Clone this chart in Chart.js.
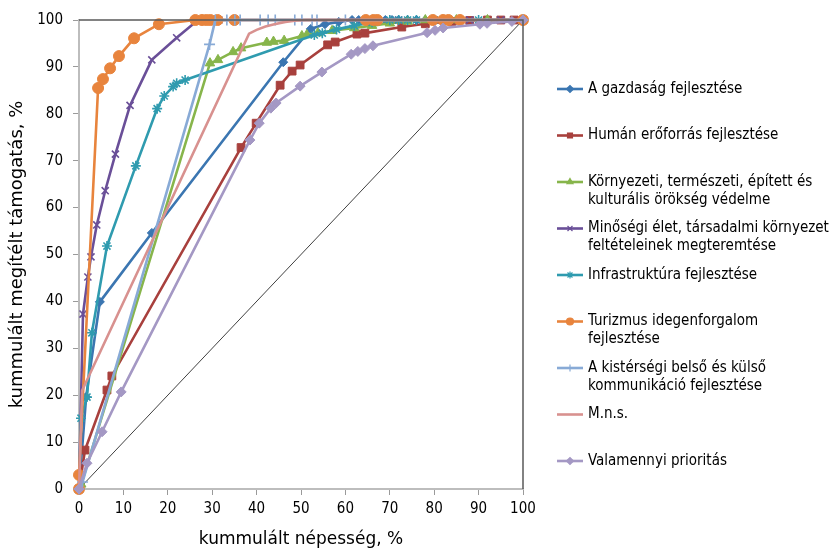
<!DOCTYPE html>
<html>
<head>
<meta charset="utf-8">
<script src="https://cdn.jsdelivr.net/npm/chart.js@4/dist/chart.umd.min.js"></script>
<style>
html,body{margin:0;padding:0;background:#fff;}
#wrap{width:840px;height:548px;position:relative;}
</style>
</head>
<body>
<div id="wrap"><canvas id="c" width="840" height="548"></canvas></div>
<script>
// ---- data (x = kummulált népesség %, y = kummulált megítélt támogatás %) ----
const xTicks = [0,10,20,30,40,50,60,70,80,90,100];
const yTicks = [0,10,20,30,40,50,60,70,80,90,100];

const gazdasag = [[0,0],[1.6,19.6],[4.7,39.9],[16.4,54.6],[46,91],[52.2,98.1],[55.4,99.1],[58.5,99.6],[61.5,100],[63,100],[64.5,100],[66,100],[67.5,100],[69,100],[70.5,100],[72,100],[74,100],[76,100],[78,100],[85,100],[92,100],[100,100]];
const human = [[0,0],[1.35,8.3],[6.3,21.1],[7.4,24.1],[36.5,72.8],[39.9,78],[45.3,86.1],[48,89.1],[49.8,90.4],[56,94.7],[57.7,95.3],[62.6,97],[64.4,97.2],[72.7,98.5],[78,99.2],[84,99.7],[88,99.9],[92,100],[95,100],[98,100],[100,100]];
const kornyezeti = [[0,0],[0.5,1],[29.5,90.8],[31.3,91.5],[34.7,93.2],[36.5,94],[42.3,95.2],[43.8,95.4],[46.2,95.6],[50.2,96.6],[51.3,96.8],[53.8,97.2],[57,97.7],[62,98.3],[66,98.8],[70,99.3],[74,99.7],[78,100],[85,100],[92,100],[100,100]];
const minosegi = [[0,0],[0.9,37.3],[2,45.2],[2.7,49.5],[4,56.3],[5.9,63.6],[8.2,71.4],[11.5,81.8],[16.4,91.5],[22,96.2],[26.8,100],[28.5,100],[30,100],[31.5,100],[65,100],[72,100],[80,100],[88,100],[95,100],[100,100]];
const infrastruktura = [[0,0],[0.45,15.1],[1.8,19.6],[2.9,33.3],[6.3,51.8],[12.8,68.9],[17.6,81.1],[19.2,83.8],[21.2,85.8],[22,86.5],[23.9,87.2],[53,96.8],[54.8,97.2],[58,98],[62,98.8],[66,99.5],[70,100],[72,100],[74,100],[76,100],[80,100],[90,100],[100,100]];
const turizmus = [[0,0],[0,3],[4.3,85.5],[5.4,87.4],[7,89.7],[9,92.3],[12.4,96.1],[18,99.1],[26.2,100],[27.7,100],[28.7,100],[29.6,100],[31.2,100],[35,100],[64.6,100],[66.3,100],[67.2,100],[79.7,100],[82,100],[83.2,100],[85.8,100],[100,100]];
const kisterseg = [[0,0],[0.8,1.5],[29.4,94.8],[30.7,100],[33.3,100],[35.1,100],[36.3,100],[40.8,100],[42.6,100],[44.2,100],[48.6,100],[50.2,100],[52.5,100],[53.6,100],[60,100],[100,100]];
const mns = [[0,0],[0.7,21],[38.3,97.1],[40,97.9],[42,98.6],[44,99.1],[46.5,99.6],[49,99.9],[51,100],[100,100]];
const valamennyi = [[0,0],[1.8,5.5],[5.2,12.2],[9.5,20.7],[38.5,74.4],[40.6,78],[43.2,81.2],[44.4,82.3],[49.8,85.9],[54.7,88.9],[61.3,92.7],[62.8,93.3],[64.4,93.9],[66.2,94.5],[78.4,97.3],[80.2,97.8],[82,98.3],[90.3,99.1],[91.9,99.3],[97.5,99.7],[100,100]];
const egyenlo = [[0,0],[100,100]];

const seriesNames = [
  ["A gazdaság fejlesztése"],
  ["Humán erőforrás fejlesztése"],
  ["Környezeti, természeti, épített és","kulturális örökség védelme"],
  ["Minőségi élet, társadalmi környezet","feltételeinek megteremtése"],
  ["Infrastruktúra fejlesztése"],
  ["Turizmus idegenforgalom","fejlesztése"],
  ["A kistérségi belső és külső","kommunikáció fejlesztése"],
  ["M.n.s."],
  ["Valamennyi prioritás"]
];
const seriesData = [gazdasag, human, kornyezeti, minosegi, infrastruktura, turizmus, kisterseg, mns, valamennyi];
const colors = ["#3B76B1","#A8403D","#87B54B","#6A4F98","#2F9BAF","#E8843D","#88AAD6","#D8918F","#A498C4"];
const pStyles = ["rectRot","rect","triangle","crossRot","star","circle","cross",false,"rectRot"];
const pRadius = [4.5,5.5,5.5,5,5,5.5,5.5,0,5];

const FONT = "'DejaVu Sans Condensed', 'DejaVu Sans', Verdana, sans-serif";
const TFONT = "'DejaVu Sans', Verdana, sans-serif";

const toXY = arr => arr.map(p => ({x:p[0], y:p[1]}));

const datasets = seriesData.map((d,i)=>({
  label: seriesNames[i].join(' '),
  legendLines: seriesNames[i],
  data: toXY(d),
  borderColor: colors[i],
  backgroundColor: colors[i],
  borderWidth: 2.6,
  pointStyle: pStyles[i] || 'circle',
  pointRadius: pRadius[i],
  pointBorderWidth: (pStyles[i]==='crossRot'||pStyles[i]==='star'||pStyles[i]==='cross') ? 1.6 : 1,
  pointBorderColor: colors[i],
  pointBackgroundColor: colors[i],
  tension: 0,
  clip: false,
  order: 9-i
}));
datasets.push({
  label: 'egyenlőség',
  noLegend: true,
  data: toXY(egyenlo),
  borderColor: '#404040',
  borderWidth: 1,
  pointRadius: 0,
  tension: 0,
  order: 20
});

const framePlugin = {
  id: 'frame',
  afterDatasetsDraw(chart){
    const {ctx, chartArea:a} = chart;
    ctx.save();
    ctx.strokeStyle = '#5A5A5A';
    ctx.lineWidth = 1.5;
    ctx.beginPath();
    ctx.moveTo(a.left, a.top);
    ctx.lineTo(a.right, a.top);
    ctx.lineTo(a.right, a.bottom);
    ctx.stroke();
    ctx.restore();
  }
};

const legendPlugin = {
  id: 'sideLegend',
  afterDraw(chart){
    const ctx = chart.ctx;
    const x0 = 557, x1 = 583, tx = 588;
    const y0 = 89, step = 46.5, lh = 18;
    ctx.save();
    ctx.font = "15px " + FONT;
    ctx.textBaseline = 'middle';
    ctx.textAlign = 'left';
    let k = 0;
    chart.data.datasets.forEach(ds=>{
      if (ds.noLegend) return;
      const y = y0 + k*step;
      ctx.strokeStyle = ds.borderColor;
      ctx.lineWidth = 2.6;
      ctx.beginPath(); ctx.moveTo(x0,y); ctx.lineTo(x1,y); ctx.stroke();
      if (ds.pointRadius > 0 && Chart.helpers && Chart.helpers.drawPoint){
        ctx.fillStyle = ds.borderColor;
        ctx.strokeStyle = ds.borderColor;
        ctx.lineWidth = 1.2;
        Chart.helpers.drawPoint(ctx, {pointStyle: ds.pointStyle, radius: 3.5, rotation: 0, borderWidth: 1.2}, (x0+x1)/2, y);
      }
      ctx.fillStyle = '#000';
      ds.legendLines.forEach((t,j)=> ctx.fillText(t, tx, y + j*lh));
      k++;
    });
    ctx.restore();
  }
};

new Chart(document.getElementById('c'), {
  type: 'line',
  data: { datasets },
  plugins: [framePlugin, legendPlugin],
  options: {
    responsive: false,
    animation: false,
    layout: { padding: { top: 20, right: 317, left: 0, bottom: 0 } },
    plugins: { legend: { display: false }, tooltip: { enabled: false } },
    scales: {
      x: {
        type: 'linear', min: 0, max: 100,
        afterBuildTicks: s => { s.ticks = xTicks.map(v=>({value:v})); },
        afterFit: s => { s.height = 59; },
        ticks: { color: '#000', font: { size: 15, family: FONT }, padding: 5, maxRotation: 0 },
        grid: { drawOnChartArea: false, drawTicks: true, tickLength: 6, color: '#9A9A9A' },
        border: { display: true, color: '#BDBDBD', width: 2 },
        title: { display: true, text: 'kummulált népesség, %', color: '#000', font: { size: 17, family: TFONT }, padding: { top: 0, bottom: -2 } }
      },
      y: {
        type: 'linear', min: 0, max: 100,
        afterBuildTicks: s => { s.ticks = yTicks.map(v=>({value:v})); },
        afterFit: s => { s.width = 79; },
        ticks: { color: '#000', font: { size: 15, family: FONT }, padding: 10 },
        grid: { drawOnChartArea: false, drawTicks: true, tickLength: 6, color: '#9A9A9A' },
        border: { display: true, color: '#BDBDBD', width: 2 },
        title: { display: true, text: 'kummulált megítélt támogatás, %', color: '#000', font: { size: 18, family: TFONT }, padding: { top: 7, bottom: 4 } }
      }
    }
  }
});
</script>
</body>
</html>
